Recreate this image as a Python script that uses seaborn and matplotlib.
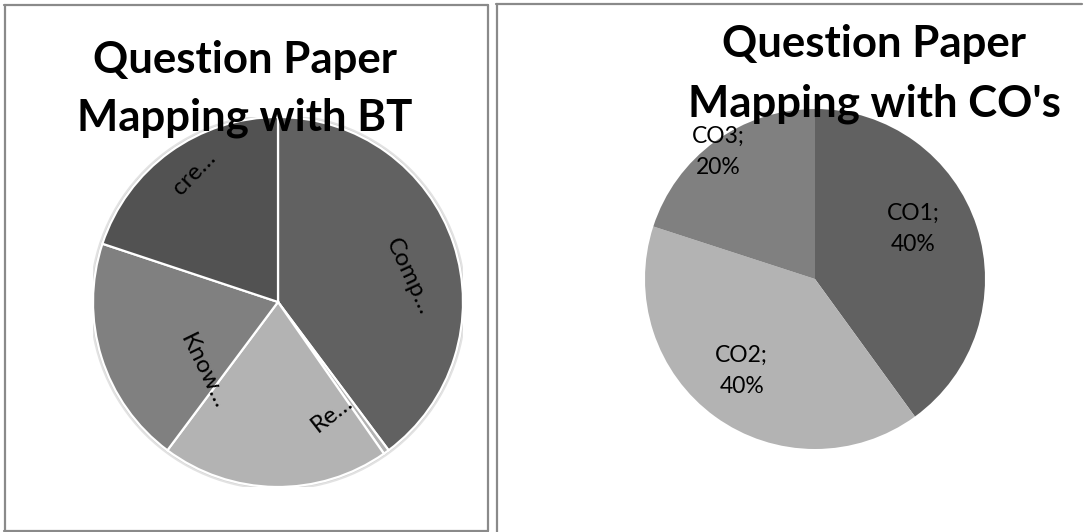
import matplotlib
matplotlib.use("Agg")
import matplotlib.pyplot as plt
import seaborn as sns
import numpy as np
from matplotlib.lines import Line2D
from matplotlib.patches import Circle

# Bloom's taxonomy split of the question paper (percent of marks)
bt_levels = ["Comp…", "", "Re…", "Know…", "cre…"]
bt_share = [40, 0.5, 20, 20, 20]

# Course outcome split (percent of marks)
co_names = ["CO1", "CO2", "CO3"]
co_share = [40, 40, 20]

left_title = ["Question Paper", "Mapping with BT"]
right_title = ["Question Paper", "Mapping with CO's"]

sns.set_theme(style="white")
plt.rcParams["font.family"] = ["Lato", "DejaVu Sans"]

W, H = 1086, 532
fig = plt.figure(figsize=(W / 100, H / 100), dpi=100)
fig.patch.set_facecolor("white")


def fx(x):
    return x / W


def fy(y):
    return 1 - y / H


def pie_axes(cx, cy, r):
    ax = fig.add_axes([fx(cx - r), fy(cy + r), 2 * r / W, 2 * r / H])
    ax.axis("off")
    return ax


def fit_unit(ax):
    ax.set_xlim(-1, 1)
    ax.set_ylim(-1, 1)
    ax.set_aspect("auto")


frame = "#8a8a8a"
# left panel frame
for xs, ys in [((3.5, 488), (4.5, 4.5)), ((3.5, 488), (530.5, 530.5)),
               ((4.5, 4.5), (4.5, 530.5)), ((487.5, 487.5), (4.5, 530.5))]:
    fig.add_artist(Line2D([fx(x) for x in xs], [fy(y) for y in ys],
                          color=frame, lw=1.6))
# right panel frame (top and left edges)
for xs, ys in [((496, 1082), (3.5, 3.5)), ((496.5, 496.5), (3.5, 532))]:
    fig.add_artist(Line2D([fx(x) for x in xs], [fy(y) for y in ys],
                          color=frame, lw=1.6))

# ---- left pie: Bloom's taxonomy ----
bt_colors = sns.color_palette(["#616161", "#b3b3b3", "#b3b3b3", "#808080", "#525252"])
axl = pie_axes(278, 302, 185)
axl.add_patch(Circle((0, 0), 1.018, facecolor="#e2e2e2", edgecolor="none", zorder=0))
axl.add_patch(Circle((0, 0), 1.008, facecolor="#cfcfcf", edgecolor="none", zorder=0))
wedges, _ = axl.pie(bt_share, colors=bt_colors, startangle=90, counterclock=False,
                    radius=1, wedgeprops=dict(edgecolor="white", linewidth=1.6))
fit_unit(axl)
for w in wedges:
    w.set_clip_on(False)

# label placement: (angle clockwise from top, radial fraction, text rotation)
bt_label_pos = {"Comp…": (79, 0.72, -65), "Re…": (154, 0.67, 38),
                "Know…": (227, 0.55, -64), "cre…": (327, 0.83, 46)}
for name in bt_levels:
    if not name:
        continue
    a, r, rot = bt_label_pos[name]
    t = np.deg2rad(a)
    axl.text(r * np.sin(t), r * np.cos(t), name, rotation=rot, rotation_mode="anchor",
             ha="center", va="center", fontsize=17.5, color="black", clip_on=False)

# ---- right pie: course outcomes ----
co_colors = sns.color_palette(["#616161", "#b3b3b3", "#808080"])
axr = pie_axes(815, 279, 170)
wedges, _ = axr.pie(co_share, colors=co_colors, startangle=90, counterclock=False,
                    radius=1, wedgeprops=dict(edgecolor="none"))
fit_unit(axr)
for w in wedges:
    w.set_clip_on(False)

co_label_pos = [(63, 0.65), (218.7, 0.69), (322.6, 0.94)]
for name, val, (a, r) in zip(co_names, co_share, co_label_pos):
    t = np.deg2rad(a)
    axr.text(r * np.sin(t), r * np.cos(t), f"{name};\n{val}%", ha="center", va="center",
             fontsize=16.5, color="black", linespacing=1.6, clip_on=False)

# ---- titles ----
for lines, cx, baselines in [(left_title, 245, (73, 131)), (right_title, 874, (57, 116))]:
    for line, by in zip(lines, baselines):
        fig.text(fx(cx), fy(by), line, ha="center", va="baseline",
                 fontsize=31.5, fontweight="bold", color="black", zorder=5)

fig.savefig("out.png", dpi=100, facecolor="white")
